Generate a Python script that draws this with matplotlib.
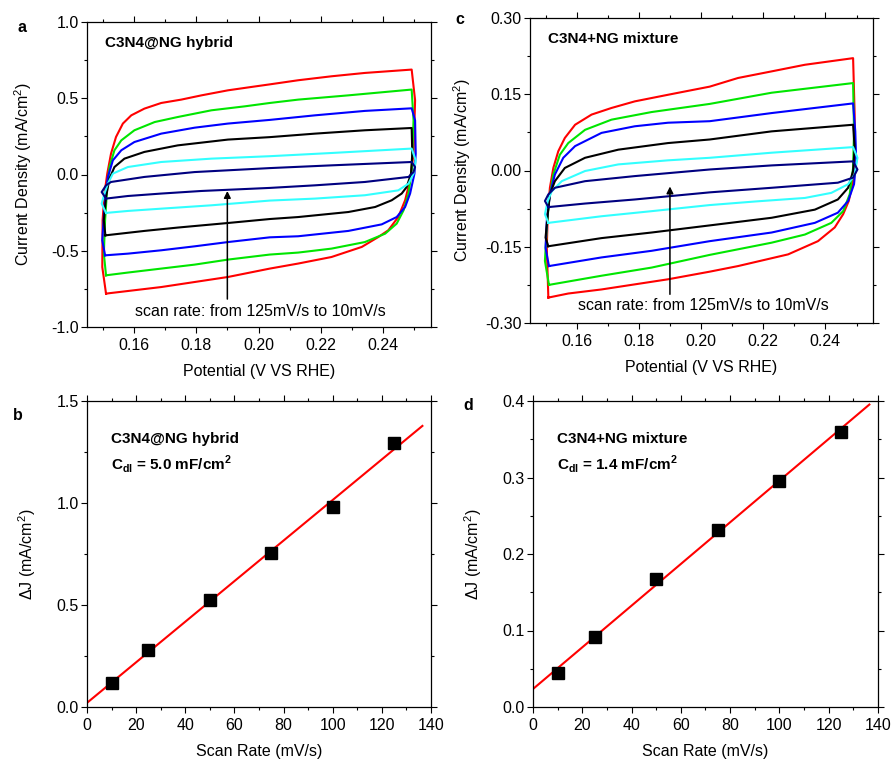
import numpy as np
import matplotlib
matplotlib.use("Agg")
import matplotlib.pyplot as plt
from matplotlib.ticker import MultipleLocator, FormatStrFormatter

plt.rcParams['font.family'] = ['Liberation Sans', 'DejaVu Sans']
plt.rcParams['font.size'] = 11.5
plt.rcParams['axes.unicode_minus'] = False
plt.rcParams['mathtext.fontset'] = 'custom'
plt.rcParams['mathtext.rm'] = 'Liberation Sans'
plt.rcParams['mathtext.bf'] = 'Liberation Sans:bold'

scan_rates = [125, 100, 75, 50, 25, 10]
cv_colors = ['#ff0000', '#00e600', '#0000ff', '#000000', '#33ffff', '#000080']

# ---- C3N4@NG hybrid, CV loops (E in V vs RHE, J in mA/cm2) ----
hyb_125_E = [0.1511, 0.1499, 0.1500, 0.1506, 0.1515, 0.1527, 0.1543, 0.1565, 0.1592, 0.1634, 0.1688, 0.1752,
             0.1817, 0.1902, 0.1977, 0.2036, 0.2127, 0.2234, 0.2341, 0.2491, 0.2502, 0.2497, 0.2486, 0.2470,
             0.2448, 0.2416, 0.2384, 0.2331, 0.2234, 0.2127, 0.2036, 0.1902, 0.1795, 0.1688, 0.1581, 0.1511]
hyb_125_J = [-0.781, -0.607, -0.300, -0.125, 0.006, 0.137, 0.246, 0.334, 0.388, 0.432, 0.469, 0.491,
             0.519, 0.552, 0.574, 0.591, 0.618, 0.644, 0.666, 0.688, 0.487, 0.137, -0.038, -0.169,
             -0.279, -0.366, -0.410, -0.475, -0.541, -0.584, -0.617, -0.672, -0.705, -0.738, -0.764, -0.781]
hyb_100_E = [0.1511, 0.1504, 0.1508, 0.1515, 0.1522, 0.1538, 0.1560, 0.1602, 0.1667, 0.1741, 0.1849, 0.1956,
             0.2036, 0.2127, 0.2288, 0.2491, 0.2497, 0.2491, 0.2481, 0.2465, 0.2443, 0.2406, 0.2341, 0.2234,
             0.2127, 0.2036, 0.1902, 0.1795, 0.1688, 0.1581, 0.1511]
hyb_100_J = [-0.661, -0.519, -0.300, -0.082, 0.049, 0.159, 0.224, 0.290, 0.344, 0.377, 0.421, 0.447,
             0.469, 0.491, 0.519, 0.557, 0.355, 0.028, -0.125, -0.235, -0.322, -0.388, -0.443, -0.486,
             -0.512, -0.525, -0.558, -0.591, -0.617, -0.643, -0.661]
hyb_75_E = [0.1508, 0.1499, 0.1506, 0.1517, 0.1533, 0.1560, 0.1602, 0.1688, 0.1795, 0.1902, 0.2036, 0.2181,
            0.2341, 0.2491, 0.2502, 0.2504, 0.2500, 0.2486, 0.2470, 0.2443, 0.2395, 0.2288, 0.2127, 0.2036,
            0.1902, 0.1795, 0.1688, 0.1581, 0.1508]
hyb_75_J = [-0.530, -0.431, -0.213, -0.016, 0.093, 0.159, 0.213, 0.268, 0.307, 0.334, 0.358, 0.388,
            0.417, 0.434, 0.355, 0.137, 0.006, -0.125, -0.213, -0.279, -0.327, -0.370, -0.405, -0.412,
            -0.443, -0.471, -0.497, -0.519, -0.530]
hyb_50_E = [0.1509, 0.1504, 0.1511, 0.1522, 0.1538, 0.1570, 0.1634, 0.1741, 0.1902, 0.2036, 0.2181, 0.2341,
            0.2491, 0.2493, 0.2489, 0.2475, 0.2459, 0.2427, 0.2374, 0.2288, 0.2127, 0.2036, 0.1902, 0.1741,
            0.1634, 0.1509]
hyb_50_J = [-0.399, -0.300, -0.147, -0.027, 0.049, 0.104, 0.148, 0.191, 0.229, 0.245, 0.268, 0.290,
            0.305, 0.137, 0.006, -0.082, -0.125, -0.169, -0.213, -0.246, -0.279, -0.292, -0.318, -0.348,
            -0.370, -0.399]
hyb_25_E = [0.1511, 0.1497, 0.1506, 0.1517, 0.1533, 0.1581, 0.1688, 0.1849, 0.2036, 0.2234, 0.2491, 0.2504,
            0.2497, 0.2481, 0.2448, 0.2341, 0.2181, 0.2036, 0.1849, 0.1688, 0.1581, 0.1511]
hyb_25_J = [-0.252, -0.191, -0.125, -0.060, 0.006, 0.049, 0.082, 0.104, 0.120, 0.141, 0.170, 0.093,
            0.006, -0.060, -0.104, -0.136, -0.158, -0.171, -0.202, -0.224, -0.239, -0.252]
hyb_10_E = [0.1511, 0.1497, 0.1511, 0.1527, 0.1634, 0.1795, 0.2036, 0.2234, 0.2491, 0.2502, 0.2497, 0.2481,
            0.2341, 0.2181, 0.2036, 0.1817, 0.1688, 0.1581, 0.1511]
hyb_10_J = [-0.158, -0.115, -0.071, -0.049, -0.016, 0.016, 0.042, 0.060, 0.082, 0.049, 0.016, -0.016,
            -0.049, -0.071, -0.088, -0.108, -0.125, -0.141, -0.158]

# ---- C3N4+NG mixture, CV loops ----
mix_125_E = [0.1509, 0.1504, 0.1507, 0.1514, 0.1525, 0.1541, 0.1562, 0.1595, 0.1648, 0.1712, 0.1787, 0.1894,
             0.2028, 0.2119, 0.2227, 0.2334, 0.2489, 0.2494, 0.2494, 0.2489, 0.2475, 0.2457, 0.2430, 0.2376,
             0.2280, 0.2119, 0.2028, 0.1894, 0.1787, 0.1680, 0.1573, 0.1509]
mix_125_J = [-0.250, -0.152, -0.086, -0.034, 0.005, 0.038, 0.064, 0.090, 0.110, 0.123, 0.136, 0.149,
             0.165, 0.182, 0.195, 0.208, 0.221, 0.110, 0.018, -0.021, -0.060, -0.086, -0.112, -0.139,
             -0.165, -0.188, -0.199, -0.214, -0.224, -0.234, -0.242, -0.250]
mix_100_E = [0.1511, 0.1498, 0.1504, 0.1511, 0.1525, 0.1546, 0.1573, 0.1627, 0.1712, 0.1841, 0.2028, 0.2227,
             0.2489, 0.2492, 0.2489, 0.2478, 0.2457, 0.2419, 0.2334, 0.2227, 0.2028, 0.1841, 0.1680, 0.1511]
mix_100_J = [-0.225, -0.178, -0.113, -0.060, -0.008, 0.031, 0.054, 0.080, 0.100, 0.115, 0.131, 0.153,
             0.172, 0.077, 0.005, -0.047, -0.080, -0.103, -0.126, -0.142, -0.166, -0.191, -0.207, -0.225]
mix_75_E = [0.1511, 0.1500, 0.1504, 0.1514, 0.1530, 0.1557, 0.1595, 0.1680, 0.1787, 0.1894, 0.2028, 0.2227,
            0.2489, 0.2496, 0.2499, 0.2492, 0.2473, 0.2440, 0.2366, 0.2227, 0.2028, 0.1841, 0.1680, 0.1511]
mix_75_J = [-0.188, -0.152, -0.099, -0.047, -0.008, 0.025, 0.048, 0.074, 0.087, 0.094, 0.097, 0.113,
            0.132, 0.077, 0.018, -0.027, -0.060, -0.083, -0.103, -0.122, -0.139, -0.158, -0.171, -0.188]
mix_50_E = [0.1509, 0.1500, 0.1507, 0.1514, 0.1530, 0.1562, 0.1627, 0.1734, 0.1894, 0.2028, 0.2227, 0.2489,
            0.2494, 0.2489, 0.2473, 0.2440, 0.2366, 0.2227, 0.2028, 0.1841, 0.1680, 0.1509]
mix_50_J = [-0.149, -0.132, -0.086, -0.047, -0.021, 0.005, 0.025, 0.041, 0.054, 0.061, 0.077, 0.090,
            0.045, -0.001, -0.034, -0.057, -0.077, -0.093, -0.108, -0.122, -0.133, -0.149]
mix_25_E = [0.1509, 0.1498, 0.1507, 0.1520, 0.1552, 0.1627, 0.1734, 0.1894, 0.2028, 0.2227, 0.2489, 0.2503,
            0.2494, 0.2473, 0.2419, 0.2334, 0.2173, 0.2028, 0.1841, 0.1680, 0.1509]
mix_25_J = [-0.103, -0.086, -0.060, -0.041, -0.021, -0.001, 0.012, 0.020, 0.025, 0.035, 0.046, 0.025,
            -0.008, -0.027, -0.044, -0.054, -0.061, -0.068, -0.080, -0.090, -0.103]
mix_10_E = [0.1509, 0.1498, 0.1509, 0.1530, 0.1627, 0.1787, 0.2028, 0.2227, 0.2489, 0.2503, 0.2489, 0.2440,
            0.2227, 0.2028, 0.1787, 0.1627, 0.1509]
mix_10_J = [-0.072, -0.060, -0.047, -0.034, -0.021, -0.011, 0.002, 0.010, 0.018, 0.002, -0.014, -0.024,
            -0.034, -0.043, -0.057, -0.065, -0.072]

# ---- delta J vs scan rate ----
rate = [10, 25, 50, 75, 100, 125]
dJ_hybrid = [0.12, 0.278, 0.525, 0.755, 0.978, 1.295]
dJ_mixture = [0.045, 0.091, 0.167, 0.232, 0.295, 0.360]

hyb_loops = [(hyb_125_E, hyb_125_J), (hyb_100_E, hyb_100_J), (hyb_75_E, hyb_75_J),
             (hyb_50_E, hyb_50_J), (hyb_25_E, hyb_25_J), (hyb_10_E, hyb_10_J)]
mix_loops = [(mix_125_E, mix_125_J), (mix_100_E, mix_100_J), (mix_75_E, mix_75_J),
             (mix_50_E, mix_50_J), (mix_25_E, mix_25_J), (mix_10_E, mix_10_J)]

W, H = 895, 763
fig = plt.figure(figsize=(W / 100, H / 100), dpi=100)


def px_axes(left, top, right, bottom):
    return fig.add_axes([left / W, 1 - bottom / H, (right - left) / W, (bottom - top) / H])


def style(ax, xmaj, xmin, ymaj, ymin, yfmt, xfmt=None):
    ax.xaxis.set_major_locator(MultipleLocator(xmaj))
    ax.xaxis.set_minor_locator(MultipleLocator(xmin))
    ax.yaxis.set_major_locator(MultipleLocator(ymaj))
    ax.yaxis.set_minor_locator(MultipleLocator(ymin))
    ax.yaxis.set_major_formatter(FormatStrFormatter(yfmt))
    if xfmt:
        ax.xaxis.set_major_formatter(FormatStrFormatter(xfmt))
    ax.tick_params(which='both', direction='out', top=True, right=True, width=0.8)
    ax.tick_params(which='major', length=4, labelsize=11.5, pad=2)
    ax.tick_params(axis='x', which='major', pad=4)
    ax.tick_params(which='minor', length=2.5)
    for s in ax.spines.values():
        s.set_linewidth(0.9)


def cv_panel(ax, loops, ylim, ymaj, yfmt, title, arrow_y, text_y, ypad):
    for (E, J), c in zip(loops, cv_colors):
        ax.plot(E, J, color=c, lw=1.5)
    ax.set_xlim(0.145, 0.2553)
    ax.set_ylim(*ylim)
    style(ax, 0.02, 0.01, ymaj, ymaj / 2, yfmt, '%.2f')
    ax.annotate('', xy=(0.19, arrow_y[1]), xytext=(0.19, arrow_y[0]),
                arrowprops=dict(arrowstyle='-|>', color='k', lw=1.1, mutation_scale=10))
    ax.text(0.2007, text_y, 'scan rate: from 125mV/s to 10mV/s', ha='center', va='center', fontsize=11.5)
    ax.text(0.052, 0.93, title, transform=ax.transAxes, fontweight='bold', fontsize=11, va='center')
    ax.set_xlabel('Potential (V VS RHE)', fontsize=11.5, labelpad=8)
    ax.set_ylabel('Current Density (mA/cm$^2$)', fontsize=11.5, labelpad=ypad)


def rate_panel(ax, dJ, ylim, ymaj, title, cdl):
    k, b = np.polyfit(rate, dJ, 1)
    xs = np.array([0, 136.5])
    ax.plot(xs, k * xs + b, color='#ff0000', lw=1.5, zorder=2)
    ax.plot(rate, dJ, 's', color='k', ms=8, zorder=3)
    ax.set_xlim(0, 140)
    ax.set_ylim(*ylim)
    style(ax, 20, 10, ymaj, ymaj / 2, '%.1f')
    ax.text(0.07, 0.875, title, transform=ax.transAxes, fontweight='bold', fontsize=11, va='center')
    ax.text(0.07, 0.795, r'C$_\mathbf{dl}$ = ' + cdl + r' mF/cm$^\mathbf{2}$', transform=ax.transAxes,
            fontweight='bold', fontsize=11, va='center')
    ax.set_xlabel('Scan Rate (mV/s)', fontsize=11.5, labelpad=8)
    ax.set_ylabel('\u0394J (mA/cm$^2$)', fontsize=11.5, labelpad=13)


ax_a = px_axes(87, 22, 431, 327)
cv_panel(ax_a, hyb_loops, (-1.0, 1.0), 0.5, '%.1f', 'C3N4@NG hybrid', (-0.835, -0.09), -0.90, 12)

ax_c = px_axes(530, 18, 873, 323)
cv_panel(ax_c, mix_loops, (-0.30, 0.30), 0.15, '%.2f', 'C3N4+NG mixture', (-0.249, -0.026), -0.266, 9)

ax_b = px_axes(87, 401, 431, 707)
rate_panel(ax_b, dJ_hybrid, (0, 1.5), 0.5, 'C3N4@NG hybrid', '5.0')

ax_d = px_axes(533, 401, 878, 707)
rate_panel(ax_d, dJ_mixture, (0, 0.4), 0.1, 'C3N4+NG mixture', '1.4')

for lab, x, y in [('a', 22, 27), ('c', 460, 20), ('b', 18, 415), ('d', 468, 405)]:
    fig.text(x / W, 1 - y / H, lab, fontweight='bold', fontsize=11.5, ha='center', va='center')

fig.savefig('out.png', dpi=100)
